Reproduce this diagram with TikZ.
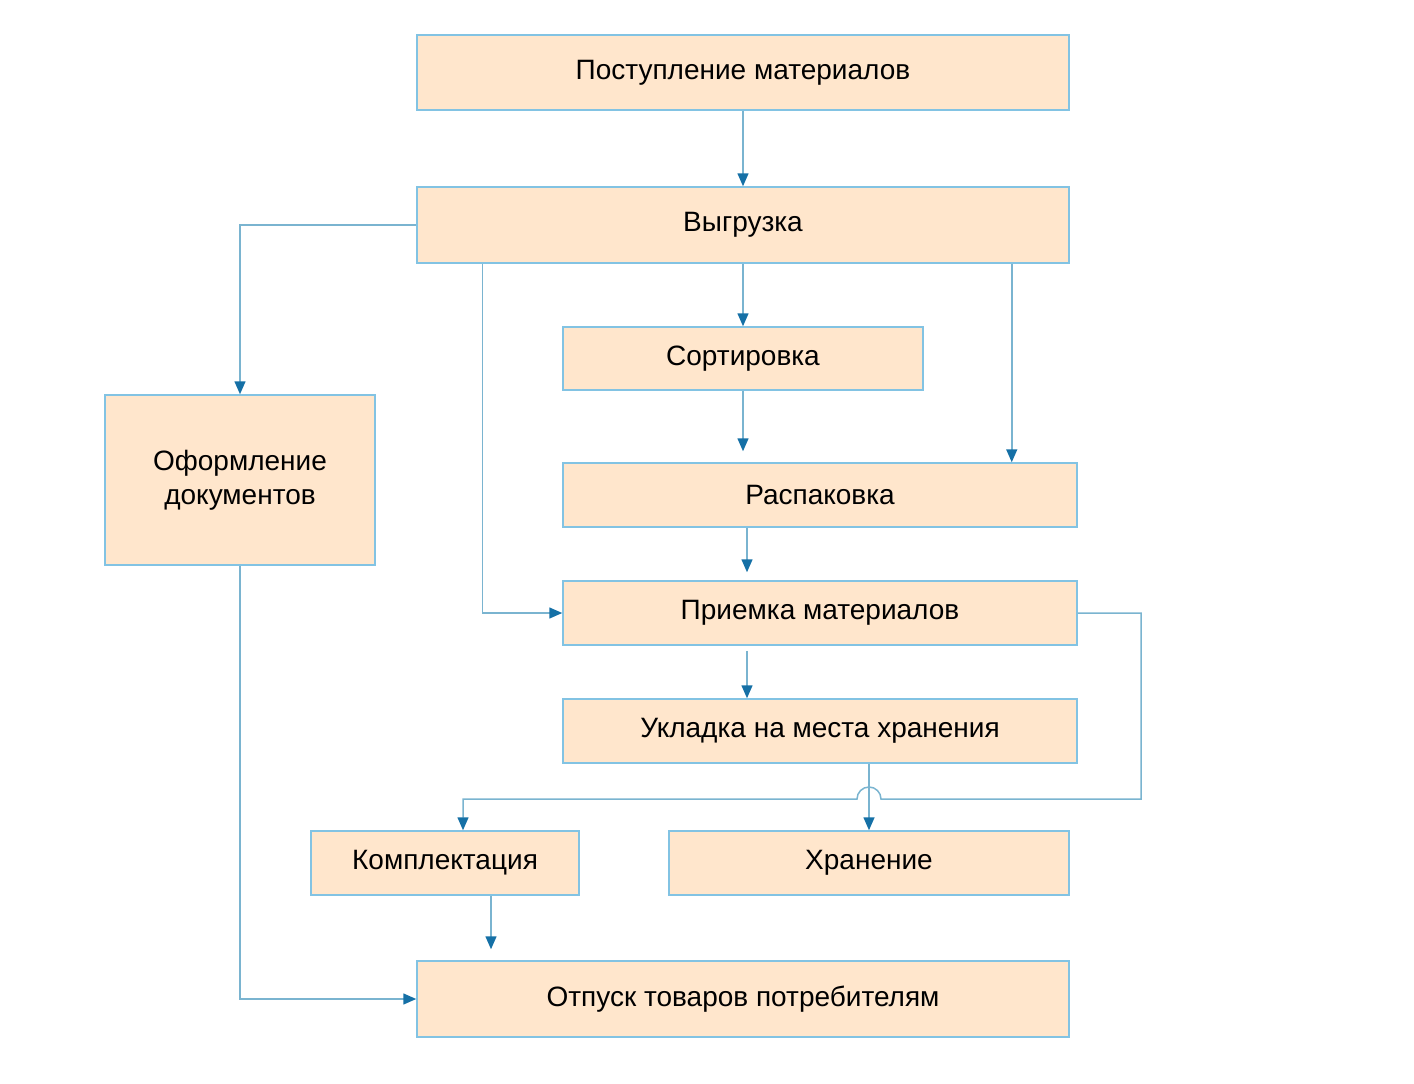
\documentclass[tikz,border=0pt]{standalone}
\usepackage{fontspec}
\setmainfont{Liberation Sans}
\usetikzlibrary{arrows.meta}
\usetikzlibrary{calc}
\definecolor{kasten}{HTML}{FFE6CC}
\definecolor{rahmen}{HTML}{82C3E3}
\definecolor{linie}{HTML}{7AB4D0}
\definecolor{spitze}{HTML}{1570A6}
\tikzset{
	punkt/.style={
		rectangle, 
		fill=kasten,
		draw=rahmen, line width=1.5pt,
		inner sep=0pt,
		align=center,
		font=\fontsize{28}{34}\selectfont},
	line/.style={draw=linie, line width=1.5pt, -{Triangle[width=11pt,length=13pt,color=spitze]}},
}
\begin{document}
\begin{tikzpicture}
	 		[x=1pt,y=-1pt]
	 		\useasboundingbox (0,0) rectangle (1414,1084);
	 		\node[punkt, minimum width=652, minimum height=75] (postup) at (743,72.5) {Поступление материалов};
	 		\node[punkt, minimum width=652, minimum height=76] (vygruz) at (743,225) {Выгрузка};
	 		\node[punkt, minimum width=360, minimum height=63] (sort) at (743,358.5) {Сортировка};
	 		\node[punkt, minimum width=514, minimum height=64] (raspak) at (820,495) {Распаковка};
	 		\node[punkt, minimum width=514, minimum height=64] (priem) at (820,613) {Приемка материалов};
	 		\node[punkt, minimum width=514, minimum height=64] (uklad) at (820,731) {Укладка на места хранения};
	 		\node[punkt, minimum width=268, minimum height=64] (kompl) at (445,863) {Комплектация};
	 		\node[punkt, minimum width=400, minimum height=64] (hran) at (869,863) {Хранение};
	 		\node[punkt, minimum width=652, minimum height=76] (otpusk) at (743,999) {Отпуск товаров потребителям};
	 		\node[punkt, minimum width=270, minimum height=170] (oform) at (240,480) {Оформление\\документов};
	 		
	 		\coordinate (ecke) at (1141,799);
	 		\coordinate (knick) at (463,799);
	 		
	 		\draw[line] (postup) -- (vygruz);
	 		\draw[line] (vygruz.west) -| (oform.north);
	 		\draw[line] ([xshift=66pt]vygruz.south west) |- (priem.west);
	 		\draw[line] (vygruz) -- (sort);
	 		\draw[line] ([xshift=-58pt]vygruz.south east) -- ([xshift=-58pt]vygruz.south east |- raspak.north);
	 		\draw[line, shorten >=11pt] (sort.south) -- (sort.south |- raspak.north);
	 		\draw[line, shorten >=8pt] ([xshift=-73pt]raspak.south) -- ([xshift=-73pt]raspak.south |- priem.north);
	 		\draw[line, shorten <=5pt] ([xshift=-73pt]priem.south) -- ([xshift=-73pt]priem.south |- uklad.north);
	 		\draw[line] (priem.east) -| (ecke) -- ([xshift=12pt]ecke -| hran.north)
	 			arc[start angle=0, end angle=180, radius=12pt] -- (knick) -- (knick |- kompl.north);
	 		\draw[line] (hran.north |- uklad.south) -- (hran.north);
	 		\draw[line, shorten >=11pt] ([xshift=46pt]kompl.south) -- ([xshift=46pt]kompl.south |- otpusk.north);
	 		\draw[line] (oform.south) |- (otpusk.west);
	 		
	 		\end{tikzpicture}
\end{document}
